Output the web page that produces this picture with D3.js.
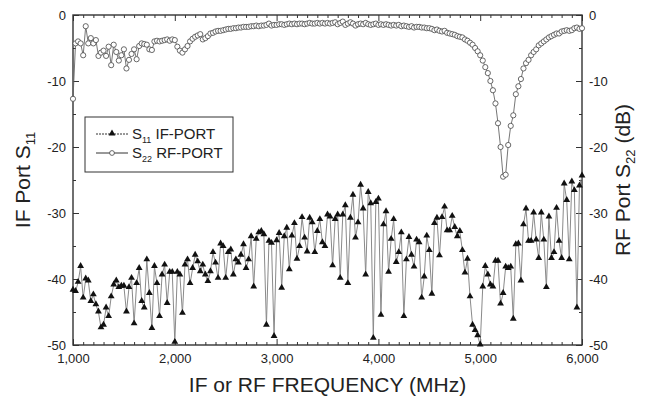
<!DOCTYPE html>
<html><head><meta charset="utf-8">
<script src="https://cdn.jsdelivr.net/npm/d3@7"></script>
<style>
body{margin:0;background:#fff}
svg{display:block}
text{font-family:"Liberation Sans",Arial,Helvetica,sans-serif;fill:#222}
</style>
</head><body>
<svg id="chart" width="648" height="398"></svg>
<script>
// ---- data ----
const freqStart = 1000, freqStep = 25;   // MHz, sweep grid
const s11IF = [
-41.7,-41.9,-40.5,-38.1,-42.9,-40.0,-40.3,-43.4,-42.4,-43.9,
-45.0,-47.4,-47.0,-44.4,-45.7,-42.7,-40.9,-40.3,-41.3,-41.1,
-41.1,-45.0,-41.3,-39.9,-46.8,-40.7,-38.4,-43.4,-44.4,-37.1,
-42.2,-47.5,-38.1,-40.7,-45.7,-39.4,-37.9,-43.7,-39.0,-39.0,
-49.6,
-39.0,-39.4,-45.2,-37.9,-37.1,-40.7,-38.4,-36.4,-37.4,-38.9,
-37.9,-39.4,-40.4,-38.9,-36.0,-37.6,-39.9,-34.7,-35.1,-39.9,
-36.0,-35.6,-39.4,-37.1,-37.6,-36.4,-34.8,-38.4,-37.1,-33.6,
-41.2,-34.0,-33.0,
-32.8,-33.3,-47.0,-34.3,-34.6,-48.7,-34.2,-33.1,-41.4,-33.6,
-32.3,-38.6,-33.5,-31.6,-37.0,-35.1,-30.7,-33.8,-35.9,-30.8,
-31.5,-36.0,-32.8,-31.0,-34.5,-35.1,-30.3,-30.6,-38.0,-31.0,
-30.3,-39.9,-30.3,-28.9,-40.7,-30.8,-27.3,-33.8,-31.5,-25.8,
-29.4,-39.4,-26.9,-28.6,-49.0,-28.4,-27.9,-45.5,-31.8,-29.8,
-39.0,-34.0,-31.0,-37.5,-36.0,-33.0,-45.7,-37.1,-33.7,-36.4,
-38.2,-34.1,-34.5,-42.9,-39.7,-33.5,-35.7,-42.3,-31.6,-30.8,
-36.5,-30.7,-29.1,-32.7,-32.7,-30.5,-32.2,-33.6,-32.8,
-35.7,-39.1,-37.0,-42.7,-47.0,-47.8,-48.6,-50.0,-41.2,-38.1,
-39.4,-40.9,-41.2,-37.3,-37.3,-43.8,-42.2,-38.2,-38.4,-38.2,
-46.1,-34.8,-34.7,-40.3,-31.8,-29.4,-34.3,-34.3,-30.0,-34.1,
-36.9,-30.0,-34.1,-41.3,-30.6,-36.9,-36.0,-29.3,-34.3,-36.9,
-25.6,-28.1,-37.1,-25.3,-26.6,-44.4,-25.9,-24.4
];
const s22RF = [
-12.7,-4.3,-4.0,-4.3,-6.1,-1.7,-4.3,-3.5,-4.3,-3.8,
-6.2,-5.7,-5.4,-6.2,-4.8,-7.6,-4.5,-5.6,-6.9,-6.1,
-5.2,-8.1,-6.8,-5.9,-5.2,-6.7,-4.7,-4.3,-4.4,-4.5,
-5.2,-5.3,-4.0,-3.9,-4.0,-3.9,-3.8,-3.7,-3.9,-3.7,
-3.8,-4.8,-5.4,-5.7,-5.2,-4.7,-4.0,-3.6,-3.3,-3.1,
-2.9,-3.7,-3.5,-3.2,-2.8,-2.7,-2.5,-2.4,-2.4,-2.3,
-2.2,-2.1,-2.1,-2.0,-2.0,-1.9,-1.9,-1.8,-1.8,-1.8,
-1.7,-1.7,-1.6,-1.7,-1.6,-1.6,-1.5,-1.3,-1.6,-1.5,
-1.5,-1.4,-1.4,-1.5,-1.4,-1.3,-1.4,-1.3,-1.4,-1.3,
-1.3,-1.4,-1.3,-1.2,-1.3,-1.3,-1.2,-1.3,-1.2,-1.3,
-1.2,-1.3,-1.2,-1.1,-1.4,-1.2,-1.0,-1.5,-1.3,-1.1,
-1.3,-1.6,-1.4,-1.3,-1.4,-1.2,-1.4,-1.5,-1.4,-1.3,
-1.5,-1.4,-1.5,-1.4,-1.5,-1.6,-1.5,-1.6,-1.5,-1.7,
-1.6,-1.7,-1.8,-1.7,-1.9,-1.8,-1.8,-1.9,-1.9,-2.0,
-2.0,-2.1,-2.3,-2.2,-2.4,-2.5,-2.4,-2.7,-2.8,-2.9,
-3.0,-3.2,-3.3,-3.4,-3.7,-3.9,-4.2,-4.5,-5.0,-5.5,
-6.1,-6.9,-7.9,-8.8,-10.0,-11.4,-13.4,-16.4,-20.0,-24.5,
-24.2,-19.7,-16.8,-15.2,-12.0,-10.8,-9.7,-8.1,-7.3,-6.8,
-6.1,-5.6,-5.2,-4.6,-4.3,-4.0,-3.7,-3.4,-3.2,-3.0,
-2.8,-2.8,-2.5,-2.4,-2.3,-2.4,-2.3,-2.0,-1.9,-2.1,-2.0
];
const xMajorTicks = [1000, 2000, 3000, 4000, 5000, 6000];
const yMajorTicks = [0, -10, -20, -30, -40, -50];
const legendLabels = [["11", " IF-PORT"], ["22", " RF-PORT"]];

// ---- layout ----
const svg = d3.select("#chart");
const L = 73, R = 582, T = 15, B = 345;
const x = d3.scaleLinear().domain([1000, 6000]).range([L, R]);
const y = d3.scaleLinear().domain([-50, 0]).range([B, T]);
const freqs = s11IF.map((d, i) => freqStart + i * freqStep);
const axisColor = "#333";

// minor ticks
const xMinor = d3.range(1000, 6001, 100).filter(v => v % 1000 !== 0);
const yMinor = [-5, -15, -25, -35, -45];

function styleAxis(g) {
  g.select(".domain").remove();
  g.selectAll(".tick line").attr("stroke", axisColor).attr("stroke-width", 1);
  g.selectAll(".tick text").style("font-size", "13px").attr("fill", "#222")
   .style("font-family", '"Liberation Sans",Arial,sans-serif');
}
const fmtX = d3.format(",");
const fmtY = d => String(d);

// bottom
svg.append("g").attr("transform", `translate(0,${B})`)
  .call(d3.axisBottom(x).tickValues(xMinor).tickSize(-3).tickFormat(""))
  .call(styleAxis);
svg.append("g").attr("transform", `translate(0,${B})`)
  .call(d3.axisBottom(x).tickValues(xMajorTicks).tickSize(-6).tickPadding(9).tickFormat(fmtX))
  .call(styleAxis);
// top
svg.append("g").attr("transform", `translate(0,${T})`)
  .call(d3.axisTop(x).tickValues(xMinor).tickSize(-3).tickFormat(""))
  .call(styleAxis);
svg.append("g").attr("transform", `translate(0,${T})`)
  .call(d3.axisTop(x).tickValues(xMajorTicks).tickSize(-6).tickFormat(""))
  .call(styleAxis);
// left
svg.append("g").attr("transform", `translate(${L},0)`)
  .call(d3.axisLeft(y).tickValues(yMinor).tickSize(-3).tickFormat(""))
  .call(styleAxis);
svg.append("g").attr("transform", `translate(${L},0)`)
  .call(d3.axisLeft(y).tickValues(yMajorTicks).tickSize(-6).tickPadding(7).tickFormat(fmtY))
  .call(styleAxis);
// right
svg.append("g").attr("transform", `translate(${R},0)`)
  .call(d3.axisRight(y).tickValues(yMinor).tickSize(-3).tickFormat(""))
  .call(styleAxis);
svg.append("g").attr("transform", `translate(${R},0)`)
  .call(d3.axisRight(y).tickValues(yMajorTicks).tickSize(-6).tickPadding(7).tickFormat(fmtY))
  .call(styleAxis);

// frame
svg.append("rect").attr("x", L).attr("y", T).attr("width", R - L).attr("height", B - T)
  .attr("fill", "none").attr("stroke", axisColor).attr("stroke-width", 1.4);

// ---- series ----
const line = d3.line().x((d, i) => x(freqs[i])).y(d => y(d));
svg.append("path").datum(s11IF).attr("d", line)
  .attr("fill", "none").attr("stroke", "#8a8a8a").attr("stroke-width", 1);
const tri = d3.symbol().type(d3.symbolTriangle).size(20);
svg.append("g").selectAll("path").data(s11IF).join("path")
  .attr("d", tri)
  .attr("transform", (d, i) => `translate(${x(freqs[i])},${y(d) - 0.5})`)
  .attr("fill", "#111");

svg.append("path").datum(s22RF).attr("d", line)
  .attr("fill", "none").attr("stroke", "#666").attr("stroke-width", 0.9);
svg.append("g").selectAll("circle").data(s22RF).join("circle")
  .attr("cx", (d, i) => x(freqs[i])).attr("cy", d => y(d)).attr("r", 2.6)
  .attr("fill", "#fff").attr("stroke", "#444").attr("stroke-width", 0.8);

// ---- legend ----
const lg = svg.append("g");
lg.append("rect").attr("x", 85).attr("y", 117).attr("width", 148).attr("height", 55)
  .attr("fill", "#fff").attr("stroke", axisColor).attr("stroke-width", 1);
const rowsY = [134, 153];
// row 1 : S11
lg.append("line").attr("x1", 96).attr("x2", 128).attr("y1", rowsY[0]).attr("y2", rowsY[0])
  .attr("stroke", "#333").attr("stroke-width", 1).attr("stroke-dasharray", "2,1");
lg.append("path").attr("d", tri).attr("transform", `translate(112,${rowsY[0] - 0.5})`).attr("fill", "#111");
// row 2 : S22
lg.append("line").attr("x1", 96).attr("x2", 128).attr("y1", rowsY[1]).attr("y2", rowsY[1])
  .attr("stroke", "#333").attr("stroke-width", 1);
lg.append("circle").attr("cx", 112).attr("cy", rowsY[1]).attr("r", 2.4)
  .attr("fill", "#fff").attr("stroke", "#444").attr("stroke-width", 0.8);
legendLabels.forEach((lab, k) => {
  const t = lg.append("text").attr("x", 132).attr("y", rowsY[k] + 5).style("font-size", "15px");
  t.append("tspan").text("S");
  t.append("tspan").attr("dy", 4).style("font-size", "9px").text(lab[0]);
  t.append("tspan").attr("dy", -4).text(lab[1]);
});

// ---- axis titles ----
svg.append("text").attr("x", (L + R) / 2).attr("y", 392)
  .attr("text-anchor", "middle").style("font-size", "21px").text("IF or RF FREQUENCY (MHz)");

const lt = svg.append("text").attr("transform", `translate(30,${(T + B) / 2}) rotate(-90)`)
  .attr("text-anchor", "middle").style("font-size", "21px");
lt.append("tspan").text("IF Port S");
lt.append("tspan").attr("dy", 5).style("font-size", "13px").text("11");

const rt = svg.append("text").attr("transform", `translate(630,${(T + B) / 2}) rotate(-90)`)
  .attr("text-anchor", "middle").style("font-size", "21px");
rt.append("tspan").text("RF Port S");
rt.append("tspan").attr("dy", 5).style("font-size", "13px").text("22");
rt.append("tspan").attr("dy", -5).text(" (dB)");
</script>
</body></html>
